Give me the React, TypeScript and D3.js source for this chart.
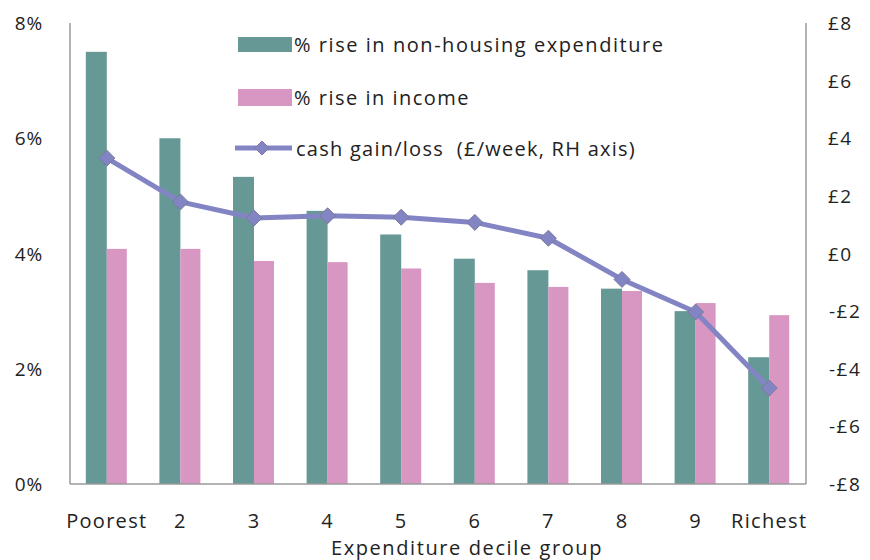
import React from "react";
import * as d3 from "d3";

const categories = ["Poorest", "2", "3", "4", "5", "6", "7", "8", "9", "Richest"];
const expenditureRise = [7.5, 6.0, 5.33, 4.74, 4.33, 3.91, 3.71, 3.39, 3.0, 2.2];
const incomeRise = [4.08, 4.08, 3.87, 3.85, 3.74, 3.49, 3.42, 3.35, 3.14, 2.93];
const cashGain = [3.31, 1.79, 1.23, 1.31, 1.26, 1.08, 0.53, -0.9, -2.03, -4.67];
const leftTicks = [0, 2, 4, 6, 8];
const rightTicks = [-8, -6, -4, -2, 0, 2, 4, 6, 8];
const legendLabels = [
  "% rise in non-housing expenditure",
  "% rise in income",
  "cash gain/loss  (£/week, RH axis)",
];
const xTitle = "Expenditure decile group";

const W = 870;
const H = 560;
const left = 70;
const right = 806;
const top = 23;
const bottom = 484;
const TEAL = "#669996";
const PINK = "#d896c2";
const LINE = "#8384c4";
const TEXT = "#222";
const FONT = "'Open Sans', sans-serif";

export default function App() {
  const x = d3.scaleBand<string>().domain(categories).range([left, right]).paddingInner(0).paddingOuter(0);
  const yL = d3.scaleLinear().domain([0, 8]).range([bottom, top]);
  const yR = d3.scaleLinear().domain([-8, 8]).range([bottom, top]);
  const barW = 21;
  const cx = (c: string) => (x(c) as number) + x.bandwidth() / 2;
  const line = d3
    .line<number>()
    .x((_, i) => cx(categories[i]))
    .y((d) => yR(d));

  const fmtL = (v: number) => `${v}%`;
  const fmtR = (v: number) => (v < 0 ? `-£${-v}` : `£${v}`);
  const diamond = (px: number, py: number, r: number) =>
    `M${px},${py - r}L${px + r},${py}L${px},${py + r}L${px - r},${py}Z`;

  return (
    <svg width={W} height={H} style={{ position: "absolute", left: 0, top: 0, background: "#fff" }} fontFamily={FONT}>
      <rect width={W} height={H} fill="#fff" />
      {categories.map((c, i) => (
        <g key={c}>
          <rect x={cx(c) - barW} y={yL(expenditureRise[i])} width={barW} height={bottom - yL(expenditureRise[i])} fill={TEAL} />
          <rect x={cx(c)} y={yL(incomeRise[i])} width={barW - 1} height={bottom - yL(incomeRise[i])} fill={PINK} />
        </g>
      ))}
      {/* axes */}
      <line x1={left} x2={left} y1={top} y2={bottom} stroke="#9a9a9a" strokeWidth={1.5} />
      <line x1={right} x2={right} y1={top} y2={bottom} stroke="#9a9a9a" strokeWidth={1.5} />
      <line x1={left} x2={right} y1={bottom} y2={bottom} stroke="#9a9a9a" strokeWidth={1.5} />
      {leftTicks.map((t) => (
        <text key={t} x={43} y={yL(t)} textAnchor="end" dominantBaseline="central" fontSize={19} fill={TEXT} letterSpacing={0.8}>
          {fmtL(t)}
        </text>
      ))}
      {rightTicks.map((t) => (
        <text key={t} x={t < 0 ? 829 : 828} y={yR(t)} textAnchor="start" dominantBaseline="central" fontSize={19} fill={TEXT} letterSpacing={1.5}>
          {fmtR(t)}
        </text>
      ))}
      {categories.map((c) => (
        <text key={c} x={cx(c)} y={520} textAnchor="middle" dominantBaseline="central" fontSize={20} fill={TEXT} letterSpacing={1.3}>
          {c}
        </text>
      ))}
      <text x={467} y={547} textAnchor="middle" dominantBaseline="central" fontSize={20} fill={TEXT} letterSpacing={1.6}>
        {xTitle}
      </text>
      {/* line */}
      <path d={line(cashGain) || ""} fill="none" stroke={LINE} strokeWidth={5} strokeLinejoin="round" />
      {cashGain.map((v, i) => (
        <path key={i} d={diamond(cx(categories[i]), yR(v), 8)} fill={LINE} stroke="#7a7a9a" strokeWidth={1} />
      ))}
      {/* legend */}
      <rect x={238} y={37} width={54} height={15} fill={TEAL} />
      <text x={294} y={44.5} dominantBaseline="central" fontSize={20} fill={TEXT} letterSpacing={1.55}>
        {legendLabels[0]}
      </text>
      <rect x={238} y={89} width={54} height={17} fill={PINK} />
      <text x={294} y={97} dominantBaseline="central" fontSize={20} fill={TEXT} letterSpacing={1.5}>
        {legendLabels[1]}
      </text>
      <line x1={235} x2={292} y1={148} y2={148} stroke={LINE} strokeWidth={5} />
      <path d={diamond(262, 148, 7)} fill={LINE} stroke="#7a7a9a" strokeWidth={1} />
      <text x={296} y={148} dominantBaseline="central" fontSize={20} fill={TEXT} letterSpacing={1.25} style={{ whiteSpace: "pre" }}>
        {legendLabels[2]}
      </text>
    </svg>
  );
}
